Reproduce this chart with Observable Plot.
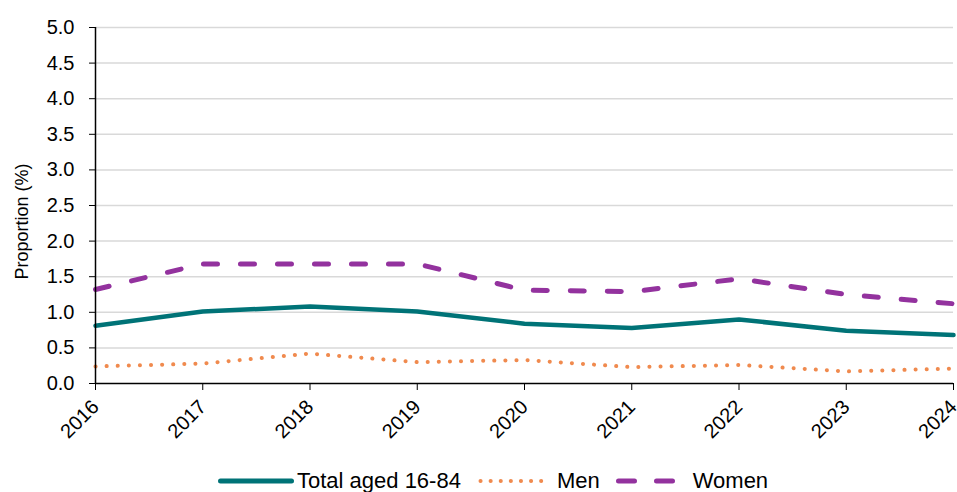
<!DOCTYPE html>
<html>
<head>
<meta charset="utf-8">
<script src="https://cdn.jsdelivr.net/npm/d3@7"></script>
<script src="https://cdn.jsdelivr.net/npm/@observablehq/plot@0.6"></script>
<style>
  html, body { margin: 0; padding: 0; background: #fff; }
  body { width: 957px; font-family: "Liberation Sans", Arial, sans-serif; }
  #chart svg { display: block; }
  #legend { display: flex; justify-content: flex-start; align-items: center; height: 32px; font-size: 22px; line-height: 22px; color: #000; padding-left: 218px; white-space: nowrap; }
  #legend .item { display: flex; align-items: center; }
  #legend svg { display: block; }
</style>
</head>
<body>
<div id="chart"></div>
<div id="legend"></div>
<script>
const years = [2016, 2017, 2018, 2019, 2020, 2021, 2022, 2023, 2024];
const total = [0.81, 1.01, 1.08, 1.01, 0.84, 0.78, 0.90, 0.74, 0.68];
const men   = [0.24, 0.28, 0.42, 0.30, 0.33, 0.23, 0.26, 0.17, 0.21];
const women = [1.32, 1.68, 1.68, 1.68, 1.31, 1.29, 1.47, 1.25, 1.12];
const yTicks = [0, 0.5, 1, 1.5, 2, 2.5, 3, 3.5, 4, 4.5, 5];
const yLabel = "Proportion (%)";

const seriesNames = ["Total aged 16-84", "Men", "Women"];
const colors = {"Total aged 16-84": "#007377", "Men": "#F08A4E", "Women": "#93329E"};

const rows = (vals) => years.map((y, i) => ({year: y, value: vals[i]}));

const chart = Plot.plot({
  width: 957,
  height: 465,
  marginLeft: 95,
  marginRight: 4,
  marginTop: 27,
  marginBottom: 82,
  style: {fontFamily: "'Liberation Sans', Arial, sans-serif", color: "#000", background: "#fff"},
  x: {domain: [2016, 2024]},
  y: {domain: [0, 5]},
  marks: [
    Plot.gridY(yTicks.filter(d => d > 0), {stroke: "#d9d9d9", strokeOpacity: 1, strokeWidth: 1.5}),
    Plot.axisY({ticks: yTicks, tickFormat: d3.format(".1f"), tickSize: 6, tickPadding: 15, fontSize: 20, label: null}),
    Plot.axisX({ticks: years, tickFormat: d => String(d), tickRotate: -45, tickSize: 7, tickPadding: 13, fontSize: 20, label: null}),
    Plot.text([yLabel], {text: d => d, frameAnchor: "left", textAnchor: "middle", rotate: -90, dx: -73, dy: 16, fontSize: 18, fill: "#000"}),
    Plot.lineY(rows(men), {x: "year", y: "value", stroke: colors["Men"], strokeWidth: 4, strokeDasharray: "0.1 11", strokeLinecap: "round"}),
    Plot.lineY(rows(total), {x: "year", y: "value", stroke: colors["Total aged 16-84"], strokeWidth: 4.5, strokeLinejoin: "round"}),
    Plot.lineY(rows(women), {x: "year", y: "value", stroke: colors["Women"], strokeWidth: 5, strokeDasharray: "14 23", strokeLinecap: "round", strokeLinejoin: "round"}),
    Plot.ruleY([0], {stroke: "#000", strokeWidth: 1.5}),
    Plot.ruleX([2016], {stroke: "#000", strokeWidth: 1.5})
  ]
});
document.getElementById("chart").appendChild(chart);

// Legend
const legend = d3.select("#legend");
const styles = {
  "Total aged 16-84": {w: 76, width: 5, dash: null, gapAfterSwatch: 3, marginRight: 17},
  "Men": {w: 72, width: 4, dash: "0.1 10", gapAfterSwatch: 7, marginRight: 16},
  "Women": {w: 60, width: 5, dash: "16 22", gapAfterSwatch: 17, marginRight: 0}
};
seriesNames.forEach(name => {
  const s = styles[name];
  const item = legend.append("div").attr("class", "item").style("margin-right", s.marginRight + "px");
  const svg = item.append("svg").attr("width", s.w).attr("height", 12).style("margin-right", s.gapAfterSwatch + "px");
  svg.append("line")
    .attr("x1", 2.5).attr("x2", s.w - 2.5)
    .attr("y1", 6).attr("y2", 6)
    .attr("stroke", colors[name]).attr("stroke-width", s.width)
    .attr("stroke-linecap", "round")
    .attr("stroke-dasharray", s.dash);
  item.append("span").text(name);
});
</script>
</body>
</html>
